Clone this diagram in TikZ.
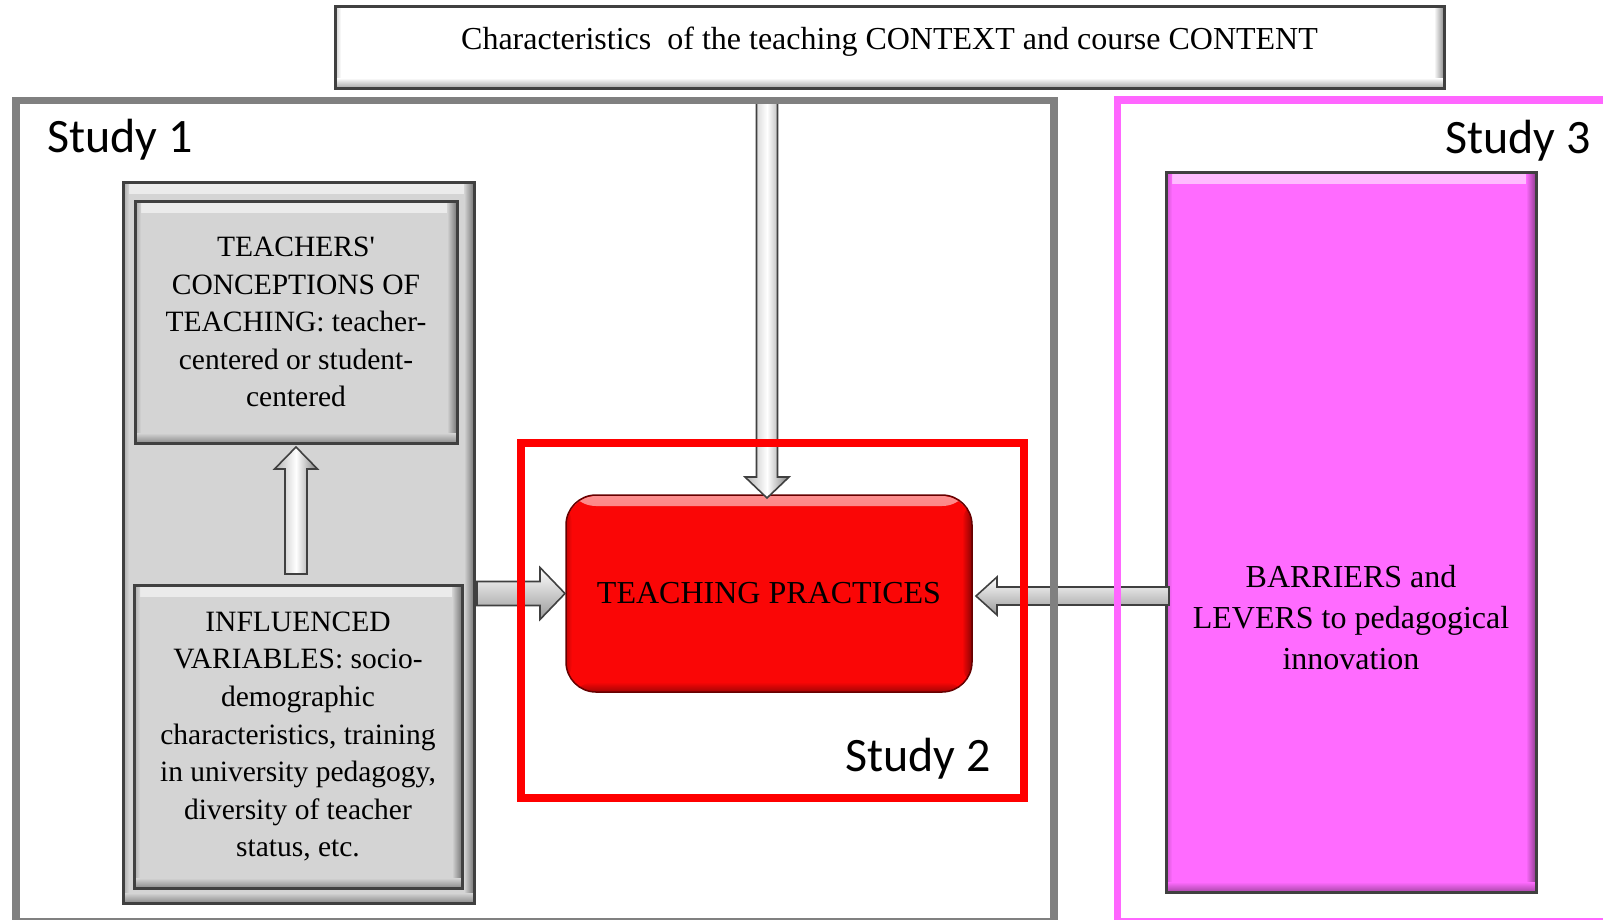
\documentclass[tikz,border=0pt]{standalone}
\usepackage{fontspec}
\setmainfont{Liberation Serif}
\newfontfamily\studyfont{Carlito}
\usetikzlibrary{calc}
\definecolor{framegray}{RGB}{128,128,128}
\definecolor{panelgray}{RGB}{212,212,212}
\definecolor{magframe}{RGB}{255,102,255}
\definecolor{magfill}{RGB}{255,107,255}
\definecolor{boxline}{RGB}{64,64,64}
\definecolor{tpred}{RGB}{250,6,6}
\newcommand\vblock[5]{%
 \draw[blockv] let \p1=(#1), \p2=(#2), \n1={sign(\y2-\y1)} in
  ({\x1-#3},{\y1}) -- ({\x1-#3},{\y2-(\n1)*#5}) -- ({\x1-#4},{\y2-(\n1)*#5}) -- ({\x1},{\y2})
  -- ({\x1+#4},{\y2-(\n1)*#5}) -- ({\x1+#3},{\y2-(\n1)*#5}) -- ({\x1+#3},{\y1}) -- cycle;}
\newcommand\hblock[5]{%
 \draw[blockh] let \p1=(#1), \p2=(#2), \n1={sign(\x2-\x1)} in
  ({\x1},{\y1+#3}) -- ({\x2-(\n1)*#5},{\y1+#3}) -- ({\x2-(\n1)*#5},{\y1+#4}) -- ({\x2},{\y1})
  -- ({\x2-(\n1)*#5},{\y1-#4}) -- ({\x2-(\n1)*#5},{\y1-#3}) -- ({\x1},{\y1-#3}) -- cycle;}
\begin{document}
\begin{tikzpicture}[x=1pt,y=-1pt,
  every node/.style={inner sep=0pt, outer sep=0pt},
  frame/.style={draw=#1, line width=7.5pt},
  bevel/.style={path picture={
    \shade[top color=white!55!#1, bottom color=#1] ([yshift=-1pt]path picture bounding box.north west) rectangle ([yshift=-11pt]path picture bounding box.north east);
    \shade[left color=black!20!#1, right color=#1] (path picture bounding box.north west) rectangle ([xshift=6pt]path picture bounding box.south west);
    \shade[left color=#1, right color=black!45!#1] ([xshift=-10pt]path picture bounding box.north east) rectangle (path picture bounding box.south east);
    \shade[top color=#1, bottom color=black!35!#1] ([yshift=10pt]path picture bounding box.south west) rectangle (path picture bounding box.south east);
  }},
  box/.style={draw=boxline, line width=3pt, fill=#1, bevel=#1},
  btext/.style={font=\fontsize{29.5}{37.6}\selectfont, align=center},
  study/.style={font=\studyfont\fontsize{48}{56}\selectfont, anchor=base west},
  blockv/.style={draw=black!75, line width=1.6pt, left color=black!30, right color=black!50, middle color=white},
  blockh/.style={draw=black!75, line width=1.6pt, top color=white, bottom color=black!40},
]
\useasboundingbox (0,0) rectangle (1603,919);
\clip (0,0) rectangle (1603,919);
\fill[white] (0,0) rectangle (1603,919);

% boxes
\node[box=white, minimum width=1109pt, minimum height=82pt, font=\fontsize{32}{38}\selectfont,
      text height=22pt, text depth=18pt] (ctx) at (889.5,47)
      {Characteristics\ \ of the teaching CONTEXT and course CONTENT};
\node[box=panelgray, minimum width=351pt, minimum height=721pt] (panel) at (298.5,542.5) {};
\node[box=panelgray, btext, minimum width=322pt, minimum height=242pt] (tc) at (296,322)
      {TEACHERS\textquotesingle\\CONCEPTIONS OF\\TEACHING: teacher-\\centered or student-\\centered};
\node[box=panelgray, btext, minimum width=328pt, minimum height=303pt] (iv) at (298,736.5)
      {INFLUENCED\\VARIABLES: socio-\\demographic\\characteristics, training\\in university pedagogy,\\diversity of teacher\\status, etc.};
\node[box=tpred, draw=black!60!red, line width=1.5pt, rounded corners=30pt, minimum width=406pt, minimum height=197pt,
      font=\fontsize{32}{38}\selectfont] (tp) at (769,593.5) {TEACHING PRACTICES};
\node[box=magfill, minimum width=370pt, minimum height=720pt] (bl) at (1351,532) {};
\node[align=center, font=\fontsize{32}{41}\selectfont] (blt) at ([yshift=-86pt]bl.center)
      {BARRIERS and\\LEVERS to pedagogical\\innovation};

% frames (as nodes, drawn later)
\path node[minimum width=1038pt, minimum height=821.5pt] (s1) at (535,511.25) {}
      node[minimum width=503pt, minimum height=355pt] (s2) at (772.5,620.5) {}
      node[minimum width=507.5pt, minimum height=822pt] (s3) at (1371.25,511) {};

% block arrows
\vblock{$(tp.north |- s1.north)+(-2,0)$}{$(tp.north)+(-2,3)$}{10.5pt}{22pt}{21pt}
\vblock{$(tc.south |- iv.north)+(0,-11)$}{$(tc.south)+(0,4)$}{11pt}{21.5pt}{22pt}
\hblock{$(panel.east |- tp.west)+(3,0)$}{$(tp.west)+(-1,0)$}{12pt}{26pt}{25pt}
\hblock{$(bl.west |- tp.east)+(3,2.5)$}{$(tp.east)+(4,2.5)$}{9pt}{19pt}{21pt}

% frames
\draw[frame=framegray] (s1.north west) rectangle (s1.south east);
\draw[frame=red] (s2.north west) rectangle (s2.south east);
\draw[frame=magframe] (s3.north west) rectangle (s3.south east);

% study labels
\node[study] (l1) at (47,152) {Study 1};
\node[study] (l2) at (845,771) {Study 2};
\node[study] (l3) at (1445,153) {Study 3};
\end{tikzpicture}
\end{document}
